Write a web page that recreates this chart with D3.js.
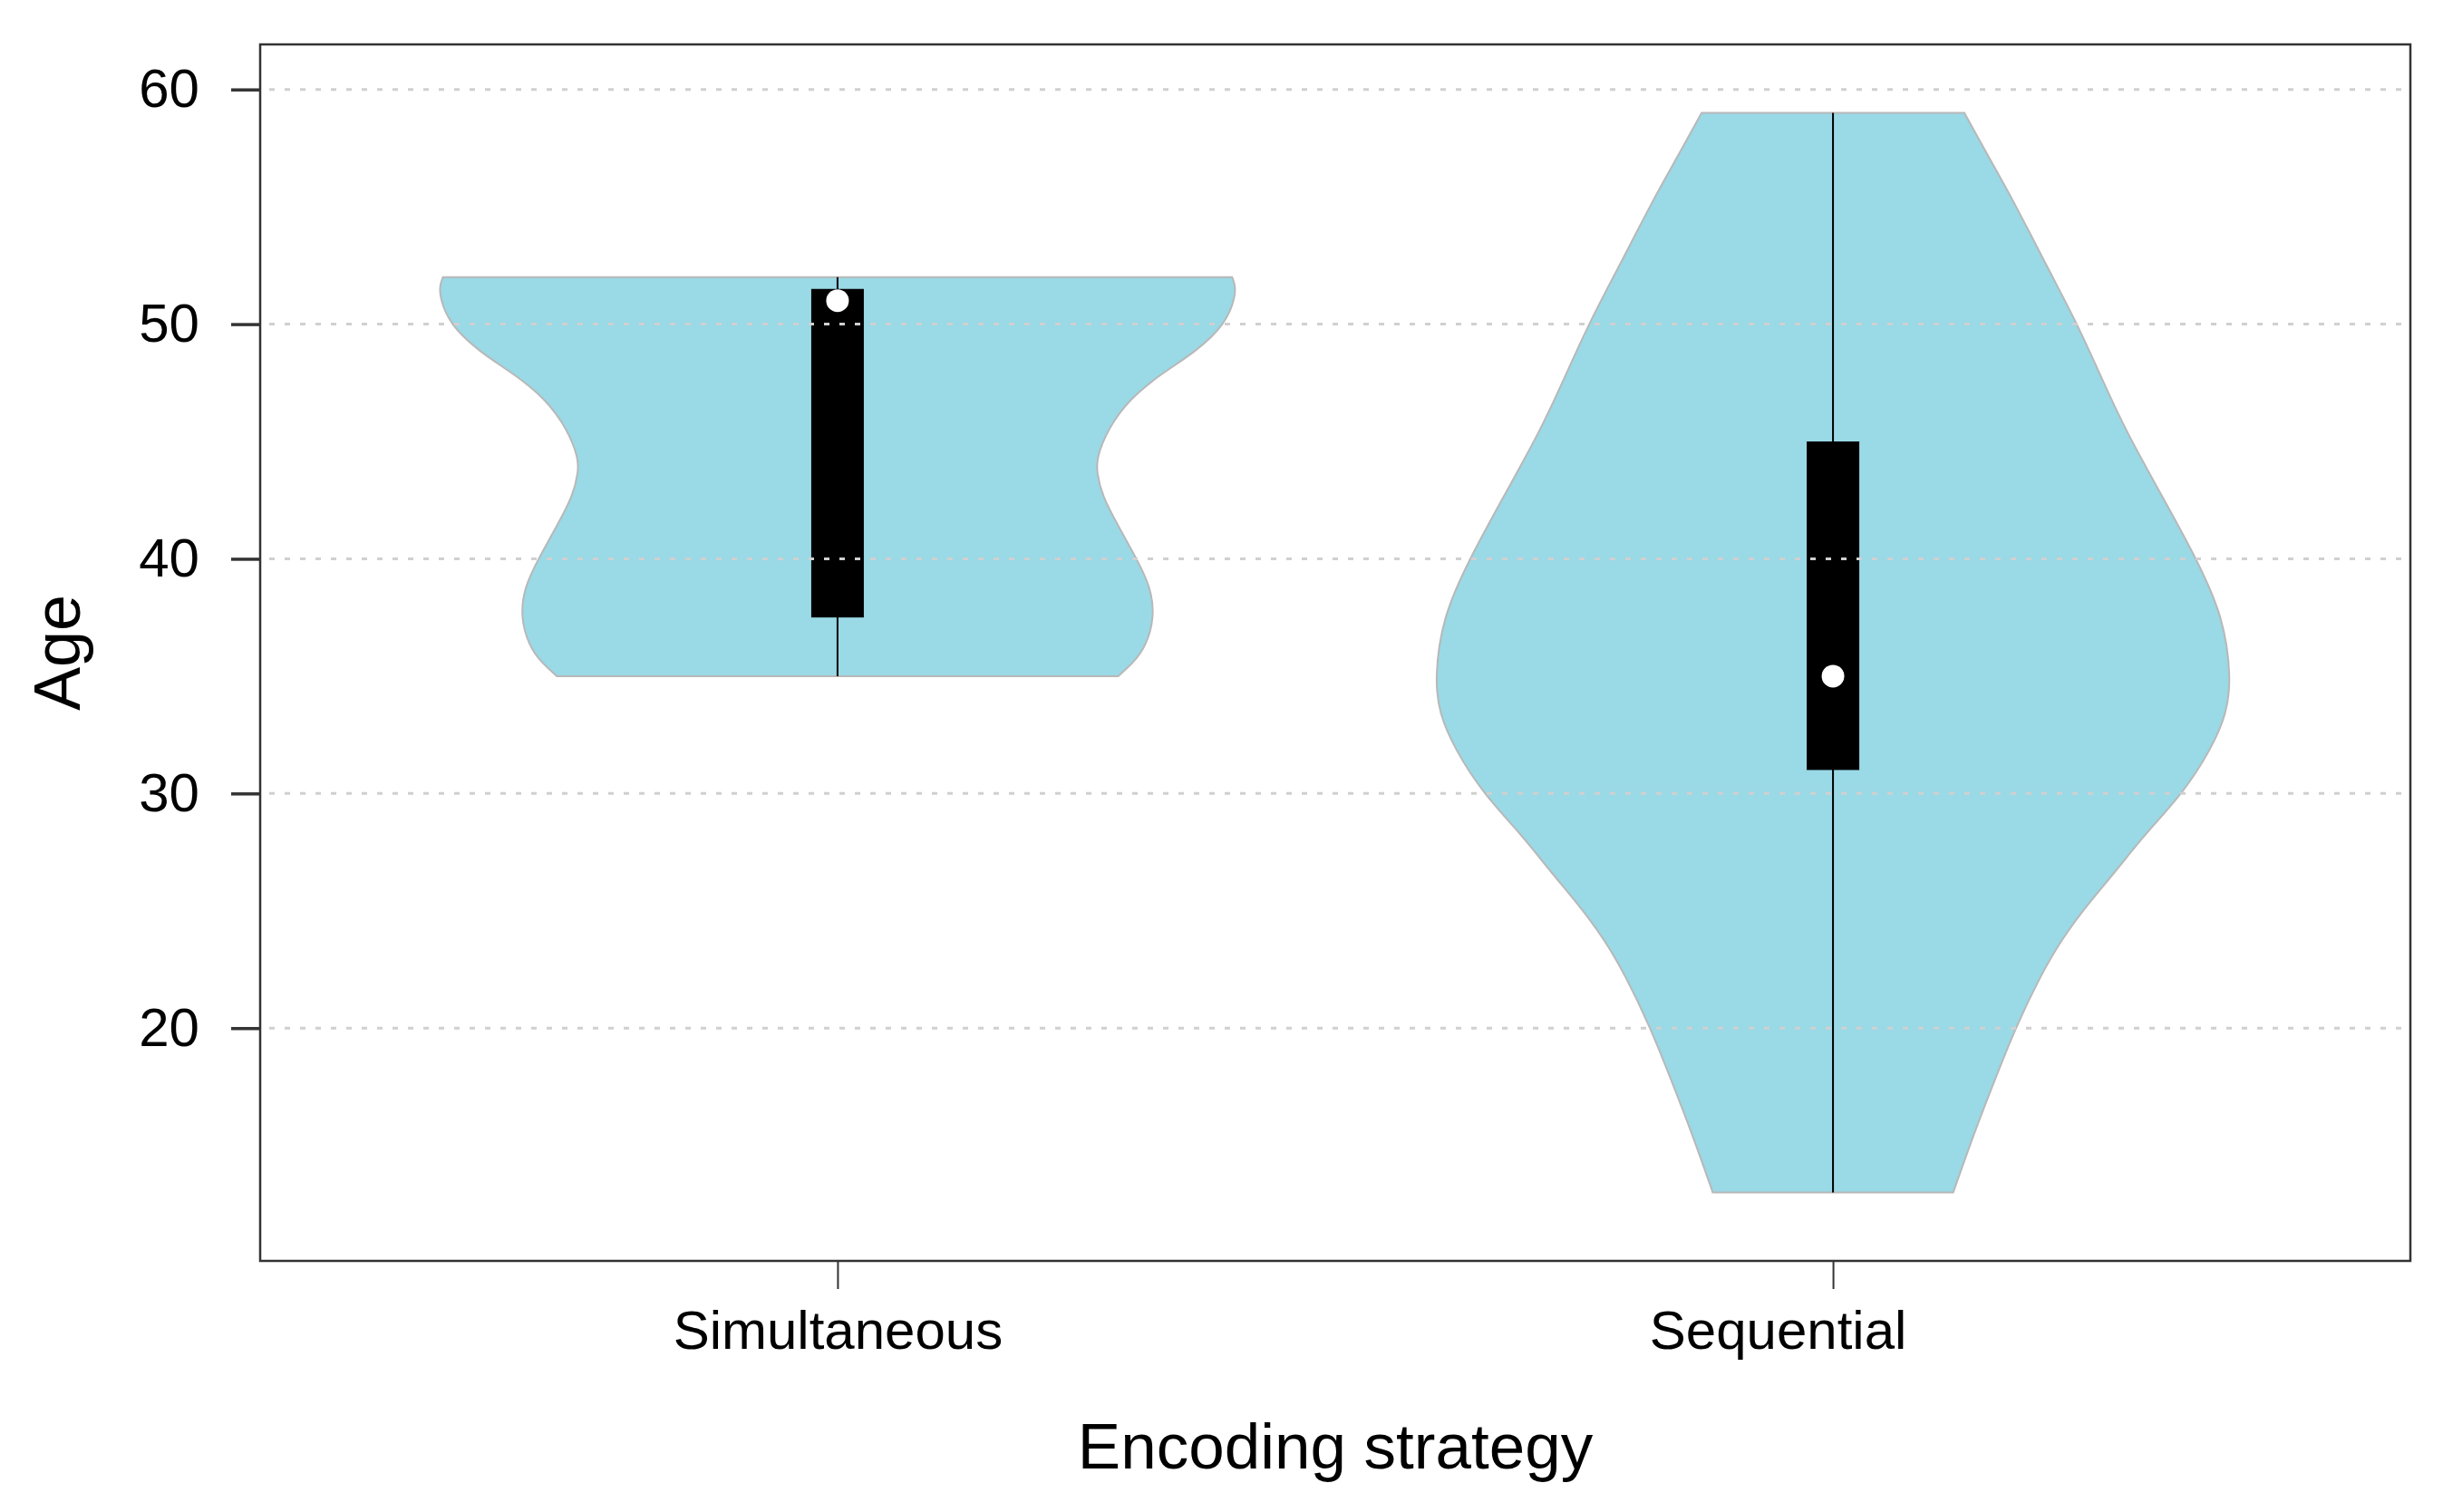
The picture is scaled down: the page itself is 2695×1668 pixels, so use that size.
<!DOCTYPE html>
<html>
<head>
<meta charset="utf-8">
<script src="https://cdn.jsdelivr.net/npm/d3@7"></script>
<style>
  body { margin: 0; background: #fff; }
  text { font-family: "Liberation Sans", Arial, sans-serif; fill: #000; }
</style>
</head>
<body>
<svg width="2695" height="1668"></svg>
<script>
// categories and summary stats
var groups = ['Simultaneous', 'Sequential'];
var whiskerLow = [35, 13];
var whiskerHigh = [52, 59];
var q1 = [37.5, 31];
var q3 = [51.5, 45];
var medians = [51, 35];
var yTicks = [20, 30, 40, 50, 60];

// violin outlines: age and relative density (max = 1)
var simAge = [35, 35.6, 36.3, 37.5, 38.8, 40.1, 41.4, 42.7, 43.7, 44.3, 45.5, 46.8, 47.9, 48.8, 50, 51.2, 51.7, 52];
var simDens = [0.705, 0.745, 0.775, 0.796, 0.787, 0.748, 0.705, 0.664, 0.651, 0.651, 0.678, 0.732, 0.814, 0.898, 0.975, 1.0, 0.998, 0.991];
var seqAge = [13, 15.6, 17.9, 20, 22.3, 23.8, 25.2, 26.7, 28.2, 30, 31.9, 33.4, 34.9, 37.5, 40, 42.5, 45.5, 47.5, 50, 52.5, 55.2, 57, 59];
var seqDens = [0.302, 0.356, 0.409, 0.458, 0.523, 0.575, 0.636, 0.711, 0.78, 0.879, 0.95, 0.989, 1.0, 0.981, 0.913, 0.832, 0.734, 0.68, 0.614, 0.536, 0.455, 0.395, 0.33];

var svg = d3.select("svg");

var plotLeft = 287, plotRight = 2659, plotTop = 49, plotBottom = 1391;

var x = d3.scaleLinear().domain([0.42, 2.58]).range([plotLeft, plotRight]);
var y = d3.scaleLinear().domain([10.08, 61.92]).range([plotBottom, plotTop]);
var halfW = d3.scaleLinear().domain([0, 1]).range([0, 0.4]);

var violins = [
    {age: simAge, dens: simDens},
    {age: seqAge, dens: seqDens}
];

violins.forEach(function(v, i) {
    var pts = v.age.map(function(a, k) { return {a: a, d: v.dens[k]}; });
    var cx = i + 1;
    var area = d3.area()
        .curve(d3.curveBasis)
        .y(function(d) { return y(d.a); })
        .x0(function(d) { return x(cx - halfW(d.d)); })
        .x1(function(d) { return x(cx + halfW(d.d)); });
    svg.append("path")
        .datum(pts)
        .attr("d", area)
        .attr("fill", "#9ad9e6")
        .attr("stroke", "#b8b8b8")
        .attr("stroke-width", 2);
});

// whiskers, boxes, medians
groups.forEach(function(g, i) {
    var cx = x(i + 1);
    svg.append("line")
        .attr("x1", cx).attr("x2", cx)
        .attr("y1", y(whiskerLow[i])).attr("y2", y(whiskerHigh[i]))
        .attr("stroke", "#000").attr("stroke-width", 2);
    svg.append("rect")
        .attr("x", cx - 29).attr("width", 58)
        .attr("y", y(q3[i])).attr("height", y(q1[i]) - y(q3[i]))
        .attr("fill", "#000");
    svg.append("circle")
        .attr("cx", cx).attr("cy", y(medians[i]))
        .attr("r", 12.5)
        .attr("fill", "#fff");
});

// dotted grid drawn on top
svg.append("g").selectAll("line")
    .data(yTicks)
    .enter().append("line")
    .attr("x1", plotLeft + 10).attr("x2", plotRight - 8)
    .attr("y1", function(d) { return y(d); })
    .attr("y2", function(d) { return y(d); })
    .attr("stroke", "#d0d0d0")
    .attr("stroke-width", 3)
    .attr("stroke-dasharray", "6 11");

// box
svg.append("rect")
    .attr("x", plotLeft).attr("y", plotTop)
    .attr("width", plotRight - plotLeft).attr("height", plotBottom - plotTop)
    .attr("fill", "none")
    .attr("stroke", "#333")
    .attr("stroke-width", 2.5);

// y axis
var yAxis = svg.append("g")
    .attr("transform", "translate(" + plotLeft + ",0)")
    .call(d3.axisLeft(y).tickValues(yTicks).tickSize(32).tickPadding(35));
yAxis.select(".domain").remove();
yAxis.selectAll(".tick line").attr("stroke", "#333").attr("stroke-width", 3.5);
yAxis.selectAll(".tick text").style("font-size", "60px");

// x axis
var xAxis = svg.append("g")
    .attr("transform", "translate(0," + plotBottom + ")")
    .call(d3.axisBottom(x).tickValues([1, 2])
        .tickFormat(function(d) { return groups[d - 1]; })
        .tickSize(31).tickPadding(23));
xAxis.select(".domain").remove();
xAxis.selectAll(".tick line").attr("stroke", "#333").attr("stroke-width", 2);
xAxis.selectAll(".tick text")
    .style("font-size", "60px")
    .attr("dx", function(d) { return d === 2 ? -61 : 0; });

// axis titles
svg.append("text")
    .attr("x", (plotLeft + plotRight) / 2).attr("y", 1620)
    .attr("text-anchor", "middle")
    .style("font-size", "71px")
    .text("Encoding strategy");

svg.append("text")
    .attr("transform", "translate(88," + (plotTop + plotBottom) / 2 + ") rotate(-90)")
    .attr("text-anchor", "middle")
    .style("font-size", "72px")
    .text("Age");
</script>
</body>
</html>
